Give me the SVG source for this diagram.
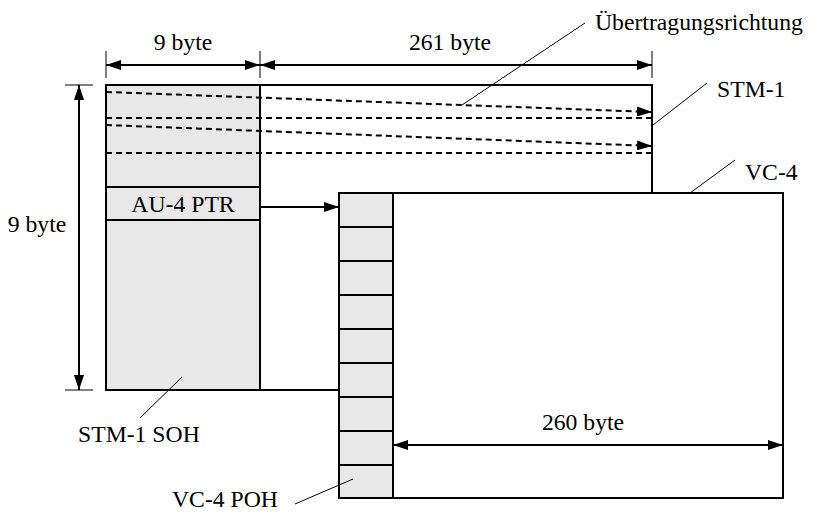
<svg xmlns="http://www.w3.org/2000/svg" width="813" height="513" viewBox="0 0 813 513">
<style>
.t{font-family:'Liberation Serif','Times New Roman','DejaVu Serif',serif;font-size:23.7px;fill:#000}
.box{stroke:#000;stroke-width:2;fill:#fff}
.gray{stroke:#000;stroke-width:2;fill:#e8e8e8}
.ln{stroke:#000;stroke-width:2;fill:none}
.dim{stroke:#000;stroke-width:2;fill:none;marker-start:url(#ah);marker-end:url(#ah)}
.one{stroke:#000;stroke-width:2;fill:none;marker-end:url(#ah)}
.dash{stroke:#000;stroke-width:2;fill:none;stroke-dasharray:6 4}
.tick{stroke:#000;stroke-width:1;fill:none}
.lead{stroke:#000;stroke-width:1;fill:none}
</style>
<defs>
<marker id="ah" markerUnits="userSpaceOnUse" markerWidth="15" markerHeight="10" refX="15" refY="5" orient="auto-start-reverse" viewBox="0 0 15 10">
<path d="M0,0 L15,5 L0,10 z" fill="#000"/>
</marker>
</defs>
<rect width="813" height="513" fill="#fff"/>
<g id="stm1">
<rect class="box" x="106" y="85" width="546" height="305"/>
</g>
<g id="soh">
<rect class="gray" x="106" y="85" width="154" height="305"/>
</g>
<g id="au4ptr">
<line class="ln" x1="106" y1="187" x2="260" y2="187"/>
<line class="ln" x1="106" y1="220" x2="260" y2="220"/>
<text class="t" x="183" y="212" text-anchor="middle">AU-4 PTR</text>
</g>
<g id="vc4">
<rect class="box" x="339" y="193" width="444" height="305"/>
</g>
<g id="poh">
<rect class="gray" x="339" y="193" width="54" height="305"/>
<path class="ln" d="M339,227H393M339,261H393M339,295H393M339,329H393M339,363H393M339,397H393M339,431H393M339,465H393"/>
</g>
<g id="connectors">
<path class="dash" d="M106,92 L652,112" marker-end="url(#ah)"/>
<path class="dash" d="M106,118 L652,118"/>
<path class="dash" d="M106,125 L652,146" marker-end="url(#ah)"/>
<path class="dash" d="M106,153 L652,153"/>
<line class="one" x1="260" y1="207" x2="339" y2="207"/>
<line class="tick" x1="106" y1="51" x2="106" y2="78"/>
<line class="tick" x1="260" y1="51" x2="260" y2="78"/>
<line class="tick" x1="652" y1="51" x2="652" y2="78"/>
<line class="dim" x1="106" y1="65" x2="260" y2="65"/>
<line class="dim" x1="260" y1="65" x2="652" y2="65"/>
<line class="tick" x1="65" y1="85" x2="93" y2="85"/>
<line class="tick" x1="65" y1="390" x2="93" y2="390"/>
<line class="dim" x1="79" y1="85" x2="79" y2="390"/>
<line class="dim" x1="393" y1="445" x2="783" y2="445"/>
<line class="lead" x1="585" y1="23" x2="462" y2="105"/>
<line class="lead" x1="707" y1="83" x2="653" y2="125"/>
<line class="lead" x1="735" y1="160" x2="690" y2="193"/>
<line class="lead" x1="182" y1="377" x2="140" y2="418"/>
<line class="lead" x1="295" y1="504" x2="353" y2="479"/>
</g>
<g id="labels">
<text class="t" x="183" y="50" text-anchor="middle">9 byte</text>
<text class="t" x="450" y="50" text-anchor="middle">261 byte</text>
<text class="t" x="595" y="30">Übertragungsrichtung</text>
<text class="t" x="717" y="97">STM-1</text>
<text class="t" x="745" y="180">VC-4</text>
<text class="t" x="37" y="232" text-anchor="middle">9 byte</text>
<text class="t" x="583" y="430" text-anchor="middle">260 byte</text>
<text class="t" x="78" y="442">STM-1 SOH</text>
<text class="t" x="172" y="507">VC-4 POH</text>
</g>
</svg>
